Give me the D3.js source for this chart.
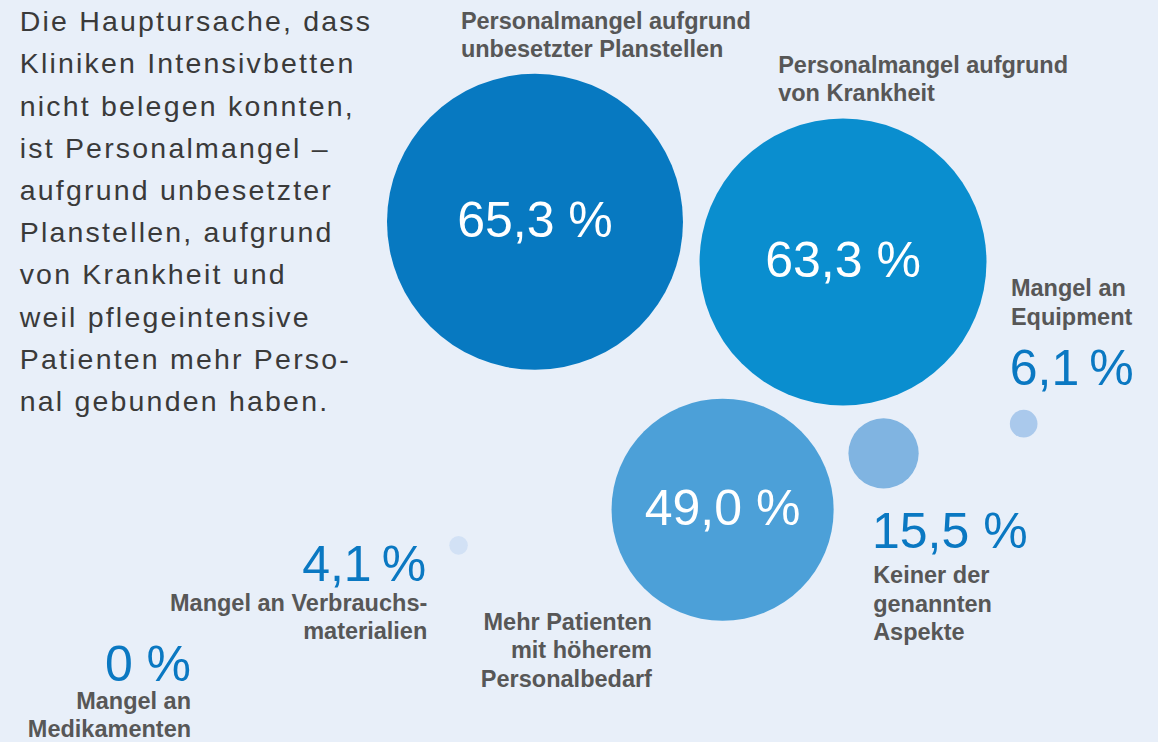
<!DOCTYPE html>
<html>
<head>
    <meta charset="utf-8">
    <title>Gründe für nicht belegbare Intensivbetten</title>
    <script src="https://d3js.org/d3.v7.min.js"></script>
    <style type="text/css">
        body {
            margin: 0;
            background: #e8eff9;
            font-family: "Liberation Sans", Arial, sans-serif;
        }
        .intro {
            font-size: 28.5px;
            letter-spacing: 2.2px;
            fill: #3a3a3a;
        }
        .cat-label {
            font-size: 23.5px;
            font-weight: bold;
            fill: #575757;
        }
        .value-label {
            font-size: 50px;
        }
    </style>
</head>
<body>
    <svg id="chart" width="1158" height="742"></svg>

    <script>
        // values (percent of clinics naming the reason)
        var values = [65.3, 63.3, 49.0, 15.5, 6.1, 4.1, 0];
        var valueLabels = ["65,3 %", "63,3 %", "49,0 %", "15,5 %", "6,1\u2009%", "4,1\u2009%", "0 %"];
        var categories = [
            ["Personalmangel aufgrund", "unbesetzter Planstellen"],
            ["Personalmangel aufgrund", "von Krankheit"],
            ["Mehr Patienten", "mit höherem", "Personalbedarf"],
            ["Keiner der", "genannten", "Aspekte"],
            ["Mangel an", "Equipment"],
            ["Mangel an Verbrauchs-", "materialien"],
            ["Mangel an", "Medikamenten"]
        ];
        var introLines = [
            "Die Hauptursache, dass",
            "Kliniken Intensivbetten",
            "nicht belegen konnten,",
            "ist Personalmangel –",
            "aufgrund unbesetzter",
            "Planstellen, aufgrund",
            "von Krankheit und",
            "weil pflegeintensive",
            "Patienten mehr Perso-",
            "nal gebunden haben."
        ];

        var colors = ["#0779c1", "#0a8ecf", "#4ca0d8", "#80b4e1", "#aac9ec", "#d2e1f5", "#d2e1f5"];

        // layout in percent of the canvas (x of width, y of height)
        // c = bubble centre, v = value text, l = first label line
        var layout = [
            { c: [46.2, 29.9], v: null,          vAnchor: "middle", l: [39.8, 3.9],  lAnchor: "start" },
            { c: [72.8, 35.3], v: null,          vAnchor: "middle", l: [67.2, 9.8],  lAnchor: "start" },
            { c: [62.4, 68.7], v: null,          vAnchor: "middle", l: [56.3, 84.9], lAnchor: "end" },
            { c: [76.3, 61.1], v: [75.3, 73.9],  vAnchor: "start",  l: [75.4, 78.6], lAnchor: "start" },
            { c: [88.4, 57.1], v: [87.2, 51.9],  vAnchor: "start",  l: [87.3, 39.9], lAnchor: "start" },
            { c: [39.6, 73.5], v: [36.8, 78.3],  vAnchor: "end",    l: [36.9, 82.3], lAnchor: "end" },
            { c: [16.5, 91.8], v: [16.5, 91.8],  vAnchor: "end",    l: [16.5, 95.5], lAnchor: "end" }
        ];

        var width = 1158, height = 742;
        var svg = d3.select("#chart");

        var x = d3.scaleLinear().domain([0, 100]).range([0, width]);
        var y = d3.scaleLinear().domain([0, 100]).range([0, height]);
        var r = d3.scaleLinear().domain([0, 65.3]).range([0, 148]);

        var lineHeight = 28.5;

        var data = values.map(function(v, i) {
            return { value: v, text: valueLabels[i], lines: categories[i], pos: layout[i], color: colors[i] };
        });

        // intro paragraph
        svg.append("text")
            .attr("class", "intro")
            .selectAll("tspan")
            .data(introLines)
            .enter()
            .append("tspan")
                .attr("x", x(1.7))
                .attr("y", function(d, i) { return y(4.2) + i * 42.2; })
                .text(function(d) { return d; });

        var groups = svg.selectAll("g.item")
            .data(data)
            .enter()
            .append("g")
            .attr("class", "item");

        groups.filter(function(d) { return d.value > 0; })
            .append("circle")
                .attr("cx", function(d) { return x(d.pos.c[0]); })
                .attr("cy", function(d) { return y(d.pos.c[1]); })
                .attr("r", function(d) { return r(d.value); })
                .attr("fill", function(d) { return d.color; });

        groups.append("text")
            .attr("class", "value-label")
            .attr("text-anchor", function(d) { return d.pos.vAnchor; })
            .attr("x", function(d) { return d.pos.v ? x(d.pos.v[0]) : x(d.pos.c[0]); })
            .attr("y", function(d) { return d.pos.v ? y(d.pos.v[1]) : y(d.pos.c[1]) + 15; })
            .attr("fill", function(d) { return d.pos.v ? "#0a78c2" : "#ffffff"; })
            .text(function(d) { return d.text; });

        groups.append("text")
            .attr("class", "cat-label")
            .attr("text-anchor", function(d) { return d.pos.lAnchor; })
            .selectAll("tspan")
            .data(function(d) { return d.lines.map(function(t) { return { t: t, pos: d.pos }; }); })
            .enter()
            .append("tspan")
                .attr("x", function(d) { return x(d.pos.l[0]); })
                .attr("y", function(d, i) { return y(d.pos.l[1]) + i * lineHeight; })
                .text(function(d) { return d.t; });
    </script>
</body>
</html>
